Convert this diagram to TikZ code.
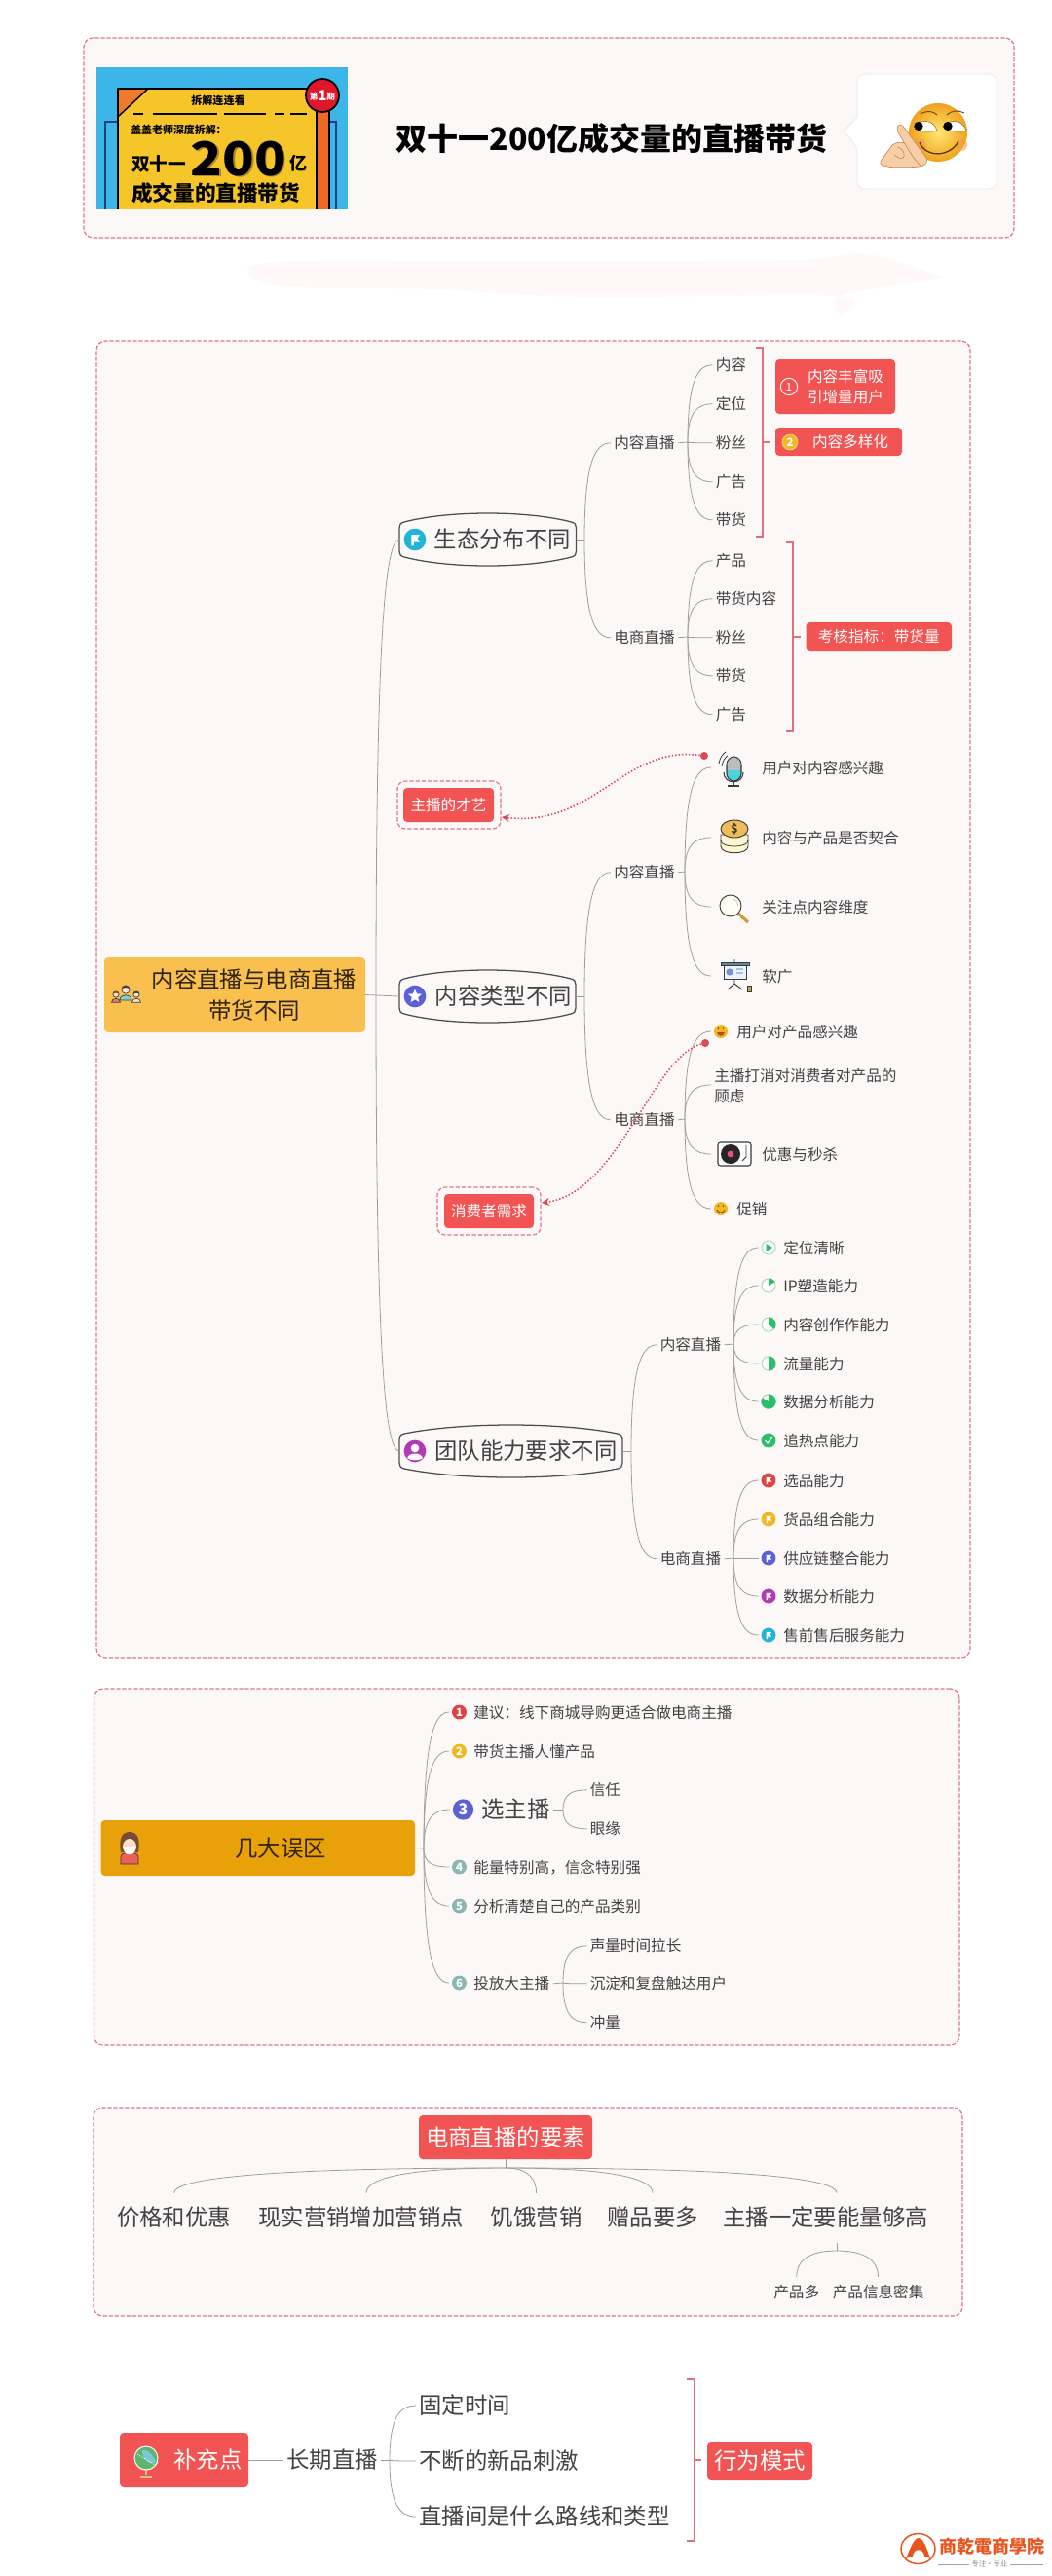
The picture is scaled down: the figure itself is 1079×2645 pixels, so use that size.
\documentclass[tikz,border=0pt]{standalone}
\usepackage{fontspec}
\usepackage{graphicx}
\setmainfont{Noto Sans CJK SC}
\newfontfamily\tcfont{Noto Sans CJK TC}
\usetikzlibrary{calc,arrows.meta,shapes.geometric}
\definecolor{txt}{HTML}{424242}
\definecolor{framefill}{HTML}{FDF8F8}
\definecolor{framedash}{HTML}{D9798A}
\definecolor{redbox}{HTML}{F25454}
\definecolor{connc}{HTML}{9E9E9E}
\definecolor{brkc}{HTML}{E0707F}
\definecolor{dotc}{HTML}{DC4A58}
\definecolor{greenc}{HTML}{2BBF68}
\definecolor{paleg}{HTML}{A9DDBD}
\definecolor{blueic}{HTML}{5B62D8}
\definecolor{purpic}{HTML}{B23BB5}
\definecolor{cyanic}{HTML}{1FB5D6}
\definecolor{yellic}{HTML}{F2B824}
\definecolor{redic}{HTML}{DD4444}
\definecolor{tealic}{HTML}{8AB6B6}
\definecolor{skinc}{HTML}{FBE2C8}
\definecolor{linec}{HTML}{3A3A3A}
\definecolor{peach}{HTML}{F6CFA8}
\newcommand\dc[1]{\definecolor{c#1}{HTML}{#1}}
\dc{FEF9F8}\dc{3CB5E8}\dc{1F3F7A}\dc{F5C52A}\dc{EF7A2A}\dc{EC6A22}\dc{E0162B}\dc{B08A20}\dc{EAEAEA}\dc{FFE870}\dc{EFA21E}\dc{F79A4A}\dc{6B4A10}\dc{8A6A20}\dc{5A3A08}\dc{C98A55}\dc{F9BF4F}\dc{2E2310}\dc{7FD3D6}\dc{E8766B}\dc{8A4A3A}\dc{FBE2C8}\dc{F7D98A}\dc{4CD2E2}\dc{BDBDBD}\dc{FFF6D2}\dc{F0BC5A}\dc{C8A040}\dc{FFFDF2}\dc{EAF3FB}\dc{5E8C94}\dc{7B8FD8}\dc{A9C3D6}\dc{C8402A}\dc{FBFBFB}\dc{262626}\dc{E2527A}\dc{E8A109}\dc{33240A}\dc{E8605A}\dc{7A4A34}\dc{D8C08A}\dc{5FB56C}\dc{F3F3F3}\dc{7CC6D6}\dc{E8541C}\dc{8A8A8A}\dc{A0A0A0}
\newcommand\fS{\fontsize{11.7}{15.75}\selectfont}
\newcommand\fL{\fontsize{17.55}{24}\selectfont}
\tikzset{
  conn/.style={draw=connc,line width=0.6pt},
  brk/.style={draw=brkc,line width=0.9pt},
  capsule/.style={draw=linec!90,line width=0.95pt},
  lab/.style={anchor=west,inner ysep=0pt,inner xsep=2.25pt,font=\fS,text=txt,yshift=-0.6pt},
  labL/.style={anchor=west,inner ysep=0pt,inner xsep=2.25pt,font=\fL,text=txt},
  framebox/.style={draw=framedash,fill=framefill,line width=0.9pt,dash pattern=on 3.2pt off 1.3pt,rounded corners=7pt},
  redn/.style={fill=redbox,rounded corners=3pt,text=white},
  dashouter/.style={draw=framedash,line width=0.9pt,dash pattern=on 3.2pt off 1.5pt,rounded corners=6pt},
  dotlink/.style={draw=dotc,line width=1.2pt,dash pattern=on 1.1pt off 1.5pt,-{Stealth[length=6pt,width=6pt,fill=dotc]}},
  reddot/.style={circle,fill=dotc,inner sep=0pt,minimum size=6pt},
  ico/.style={circle,fill=#1,inner sep=0pt,minimum size=11.2pt,outer sep=2.25pt},
  numic/.style={circle,fill=#1,inner sep=0pt,minimum size=11.2pt,outer sep=2.25pt,text=white,font=\fontsize{8.5}{8.5}\selectfont\bfseries},
  holder/.style={inner sep=0pt,outer sep=0pt,minimum height=20pt},
}
% rounded box from corner numbers
\newcommand\rbox[7]{%
  \pgfmathsetmacro\mycx{(#2+#4)/2}\pgfmathsetmacro\mycy{(#3+#5)/2}%
  \pgfmathsetmacro\myw{(#4-#2)*0.75}\pgfmathsetmacro\myh{(#5-#3)*0.75}%
  \node[rectangle,minimum width=\myw pt,minimum height=\myh pt,inner sep=0pt,outer sep=0pt,#6] (#1) at (\mycx,\mycy) {#7};}
% branch: junction -> child, leaves vertically, arrives horizontally
\newcommand\brR[2]{\draw[conn] (#1) .. controls ($(#1)!0.8!(#1|-#2)$) and ($(#2)!0.6!(#1|-#2)$) .. (#2);}
% branch: junction -> child, leaves horizontally, arrives vertically
\newcommand\brD[2]{\draw[conn] (#1) .. controls ($(#1)!0.75!(#2|-#1)$) and ($(#2)!0.55!(#2|-#1)$) .. (#2);}
% capsule outline
\newcommand\capnode[4]{%
  \pgfmathsetmacro\myw{(#3-#2)*0.75}\pgfmathsetmacro\mycx{(#2+#3)/2}\pgfmathsetmacro\myq{(#3-#2)*0.28}%
  \node[minimum width=\myw pt,minimum height=40pt,inner sep=0pt,outer sep=0pt] (#1) at (\mycx,#4) {};
  \draw[capsule] ({#2+5},{#4-18}) .. controls ({#2+\myq},{#4-30}) and ({#3-\myq},{#4-30}) .. ({#3-5},{#4-18})
    .. controls ({#3-1},{#4-17}) and (#3,{#4-15}) .. (#3,{#4-12}) -- (#3,{#4+12})
    .. controls (#3,{#4+15}) and ({#3-1},{#4+17}) .. ({#3-5},{#4+18})
    .. controls ({#3-\myq},{#4+30}) and ({#2+\myq},{#4+30}) .. ({#2+5},{#4+18})
    .. controls ({#2+1},{#4+17}) and (#2,{#4+15}) .. (#2,{#4+12}) -- (#2,{#4-12})
    .. controls (#2,{#4-15}) and ({#2+1},{#4-17}) .. ({#2+5},{#4-18}) -- cycle;}
% white flag glyph
\newcommand\flagm[3]{\fill[white,shift={(#1,#2)},scale=#3] (-3,-4) -- (4,-4) -- (2,-1) -- (4,2) -- (-1,2) -- (-1,5) -- (-3,5) -- cycle;}
% filled pie, clockwise from the top
\newcommand\pief[3]{\fill[greenc] (#1,#2) -- plot[variable=\t,domain=0:#3,samples=24] ({#1+7.5*sin(\t)},{#2-7.5*cos(\t)}) -- cycle;}
\newcommand\ringic[2]{\draw[paleg,line width=0.8pt,fill=white] (#1,#2) circle[radius=7];}
\newcommand\person[5]{%
  \begin{scope}[shift={(#1,#2)},scale=#3]
    \filldraw[fill=#4,draw=linec,line width=0.5pt] (-6,11) .. controls (-6,4) and (6,4) .. (6,11) -- cycle;
    \filldraw[fill=skinc,draw=linec,line width=0.5pt] (0,0) circle[radius=4.2];
    \fill[#5] (-4.2,-0.5) .. controls (-4,-5) and (4,-5) .. (4.2,-0.5) .. controls (2,-2.5) and (-2,-2.5) .. (-4.2,-0.5) -- cycle;
  \end{scope}}
\begin{document}
\begin{tikzpicture}[x=0.75pt,y=-0.75pt]
\useasboundingbox (0,0) rectangle (1079,2645);
\fill[white] (0,0) rectangle (1079,2645);

%% ---------- header ----------
\rbox{f1}{86}{39}{1041}{244}{framebox}{}
\fill[cFEF9F8] plot[smooth cycle,tension=0.6] coordinates {(274,270) (500,268) (814,267) (884,260) (955,280) (958,287) (865,303) (862,323) (858,304) (603,305) (443,297) (284,293)};
% cover picture
\fill[c3CB5E8] (99,69) rectangle (357,215);
\draw[c1F3F7A,line width=1.4pt] (121,125) -- (108,125) -- (108,215);
\draw[c1F3F7A,line width=1.4pt] (338,125) -- (345,125) -- (345,215);
\fill[cF5C52A] (121,91) rectangle (325,215);
\fill[cEF7A2A] (122,92) -- (151,92) -- (122,119) -- cycle;
\draw[black,line width=1.1pt] (151,92) -- (122,119);
\draw[black,line width=1.8pt] (121,215) -- (121,91) -- (325,91);
\fill[cEC6A22] (325,112) rectangle (338,215);
\draw[black,line width=1.4pt] (325,215) -- (325,112) (338,112) -- (338,215);
\filldraw[fill=cE0162B,draw=black,line width=1.3pt] (331,98) circle[radius=17];
\node[font=\fontsize{6.5}{7}\selectfont\bfseries,text=white,inner sep=0pt] (cov1) at (331,98) {第\raisebox{-0.5pt}{\fontsize{11}{11}\selectfont 1}期};
\node[font=\fontsize{8.3}{10}\selectfont\bfseries,text=black,inner sep=0pt] (cov2) at (224,103) {拆解连连看};
\draw[black,line width=1.2pt] (137,117) -- (147,117) (157,117) -- (223,117) (230,117) -- (273,117) (282,117) -- (292,117) (298,117) -- (315,117);
\node[font=\fontsize{8.2}{10}\selectfont\bfseries,text=black,inner sep=0pt,anchor=west] (cov3) at (134,133) {盖盖老师深度拆解：};
\node[font=\fontsize{14}{14}\selectfont\bfseries,text=black,inner sep=0pt,anchor=west] (cov4) at (135,168) {双十一};
\node[font=\fontsize{36}{36}\selectfont\bfseries,text=cB08A20,inner sep=0pt] (cov5s) at (246.5,164.5) {\scalebox{1.12}[1]{200}};
\node[font=\fontsize{36}{36}\selectfont\bfseries,text=black,inner sep=0pt] (cov5) at (245,163) {\scalebox{1.12}[1]{200}};
\node[font=\fontsize{13.5}{14}\selectfont\bfseries,text=black,inner sep=0pt,anchor=west] (cov6) at (297,168) {亿};
\node[font=\fontsize{16.2}{17}\selectfont\bfseries,text=black,inner sep=0pt,anchor=west] (cov7) at (135,198) {成交量的直播带货};
% title
\node[font=\fontsize{24}{26}\selectfont\bfseries,text=black,inner sep=0pt] (title) at (628,142) {双十一200亿成交量的直播带货};
% speech bubble and emoji
\filldraw[fill=white,draw=cEAEAEA,line width=0.6pt,rounded corners=6pt] (880,120) -- (880,76) -- (1023,76) -- (1023,194) -- (880,194) -- (880,150) [sharp corners] -- (866,135) -- cycle;
\shade[inner color=cFFE870,outer color=cEFA21E] (963,136) circle[radius=30];
\fill[cF79A4A,opacity=0.55] (944,149) circle[radius=7];
\fill[cF79A4A,opacity=0.55] (987,149) circle[radius=6];
\draw[c6B4A10,line width=0.7pt] (945,117) .. controls (952,113) and (958,114) .. (962,118);
\draw[c6B4A10,line width=0.7pt] (972,118) .. controls (977,113) and (984,113) .. (990,116);
\filldraw[fill=white,draw=c8A6A20,line width=0.4pt] (938,130) .. controls (945,122) and (958,122) .. (962,134) .. controls (955,136) and (945,136) .. (938,130) -- cycle;
\filldraw[fill=white,draw=c8A6A20,line width=0.4pt] (968,130) .. controls (975,122) and (988,122) .. (992,134) .. controls (985,136) and (975,136) .. (968,130) -- cycle;
\fill[black] (943,129.5) circle[radius=4.6];
\fill[black] (973,129.5) circle[radius=4.6];
\draw[c5A3A08,line width=1pt] (944,146) .. controls (950,162) and (975,162) .. (984,145);
% hand: fist, then the raised finger
\filldraw[fill=peach,draw=cC98A55,line width=0.5pt] (932,148) .. controls (925,145) and (920,146) .. (916,149) .. controls (912,155) and (908,160) .. (905,164) .. controls (903,167) and (904,169) .. (906,170) -- (914,171.5) .. controls (925,172) and (936,172) .. (946,170.7) -- cycle;
\filldraw[fill=peach,draw=cC98A55,line width=0.5pt] (921.7,129.3) .. controls (924,127) and (926,128) .. (929,132) -- (951,162) .. controls (953,166) and (950,169) .. (946,170.7) .. controls (942,168) and (938,162) .. (934,156) -- (922,136) .. controls (921,133) and (921,131) .. (921.7,129.3) -- cycle;
\draw[cC98A55,line width=0.5pt] (921,151) .. controls (926,152) and (929,156) .. (928,161) .. controls (925,165) and (921,161) .. (918,159);

%% ---------- frame 2 ----------
\rbox{f2}{99}{350}{996}{1702}{framebox}{}
% main orange node
\rbox{root}{107}{983}{375}{1060}{fill=cF9BF4F,rounded corners=3pt}{}
\node[font=\fL,text=c2E2310,align=center,inner sep=0pt] (roott) at (261,1022) {内容直播与电商直播\\带货不同};
\person{129}{1016}{1}{c7FD3D6}{linec}
\person{119}{1021}{0.75}{cE8766B}{c8A4A3A}
\person{140}{1021}{0.75}{cFBE2C8}{linec}
\capnode{b1}{410}{591.5}{554}
\capnode{b2}{410}{591}{1023}
\capnode{b3}{410}{639}{1490}
\node[ico=cyanic,minimum size=17pt] (b1i) at (426,554) {};
\flagm{426}{554}{1.25}
\node[ico=blueic,minimum size=17pt] (b2i) at (426,1023) {};
\node[star,star points=5,star point ratio=2.2,fill=white,inner sep=0pt,minimum size=11pt] (b2s) at (426,1023) {};
\node[ico=purpic,minimum size=17pt] (b3i) at (426,1490) {};
\fill[white] (426,1487) circle[radius=4.3];
\fill[white] (418,1497) .. controls (420,1491) and (432,1491) .. (434,1497) .. controls (431,1500) and (421,1500) .. (418,1497) -- cycle;
\node[labL] (b1t) at (442.5,554) {生态分布不同};
\node[labL] (b2t) at (443.5,1023) {内容类型不同};
\node[labL] (b3t) at (443,1490) {团队能力要求不同};
% root connectors
\coordinate (j0) at (386,1023);
\draw[conn] (root.east) -- (b2.west);
\brR{j0}{b1.west}
\brR{j0}{b3.west}

% --- branch 1
\coordinate (j1) at (600,554);
\draw[conn] (b1.east) -- (j1);
\node[lab] (a1) at (627,454) {内容直播};
\node[lab] (a2) at (627,654) {电商直播};
\brR{j1}{a1.west}
\brR{j1}{a2.west}
\coordinate (j1a) at (706,454);
\draw[conn] (a1.east) -- (j1a);
\node[lab] (a11) at (731.5,374) {内容};
\node[lab] (a12) at (731.5,414) {定位};
\node[lab] (a13) at (731.5,454) {粉丝};
\node[lab] (a14) at (731.5,494) {广告};
\node[lab] (a15) at (731.5,533) {带货};
\foreach \c in {a11,a12,a13,a14,a15}{\brR{j1a}{\c.west}}
\coordinate (j1b) at (706,654);
\draw[conn] (a2.east) -- (j1b);
\node[lab] (a21) at (731.5,575) {产品};
\node[lab] (a22) at (731.5,614) {带货内容};
\node[lab] (a23) at (731.5,654) {粉丝};
\node[lab] (a24) at (731.5,693) {带货};
\node[lab] (a25) at (731.5,733) {广告};
\foreach \c in {a21,a22,a23,a24,a25}{\brR{j1b}{\c.west}}
% brackets and summaries
\draw[brk] (776,357) -- (783,357) -- (783,551) -- (776,551);
\draw[brk] (783,454) -- (790,454);
\draw[brk] (807,557) -- (814,557) -- (814,751) -- (807,751);
\draw[brk] (814,654) -- (822,654);
\rbox{s1}{796}{369}{919}{425}{redn}{}
\node[circle,draw=white,line width=0.7pt,text=white,inner sep=0pt,minimum size=13pt,font=\fontsize{8.5}{8.5}\selectfont] (s1i) at (810,397) {1};
\node[font=\fS,text=white,align=center,inner sep=0pt] (s1t) at (868,397) {内容丰富吸\\引增量用户};
\rbox{s2}{796}{439}{926}{468}{redn}{}
\node[circle,fill=yellic,draw=cF7D98A,line width=0.5pt,text=white,inner sep=0pt,minimum size=12pt,font=\fontsize{8.5}{8.5}\selectfont\bfseries] (s2i) at (811,454) {2};
\node[font=\fS,text=white,inner sep=0pt] (s2t) at (873,454) {内容多样化};
\rbox{s3}{827.5}{639}{977}{668}{redn,font=\fS}{考核指标：带货量}

% --- branch 2
\coordinate (j2) at (600,1023);
\draw[conn] (b2.east) -- (j2);
\node[lab] (c1) at (627,895) {内容直播};
\node[lab] (c2) at (627,1149) {电商直播};
\brR{j2}{c1.west}
\brR{j2}{c2.west}
\coordinate (j2a) at (703,895);
\draw[conn] (c1.east) -- (j2a);
\node[holder,minimum width=33pt] (c11i) at (752,788) {};
\node[holder,minimum width=33pt] (c12i) at (752,860) {};
\node[holder,minimum width=33pt] (c13i) at (752,931) {};
\node[holder,minimum width=33pt] (c14i) at (752,1002) {};
\foreach \c in {c11i,c12i,c13i,c14i}{\brR{j2a}{\c.west}}
\node[lab] (c11) at (779,788) {用户对内容感兴趣};
\node[lab] (c12) at (779,860) {内容与产品是否契合};
\node[lab] (c13) at (779,931) {关注点内容维度};
\node[lab] (c14) at (779,1002) {软广};
% microphone
\draw[linec,line width=0.6pt] (741,787) .. controls (742,781) and (744,778) .. (747,776) (738,784) .. controls (739,778) and (742,774) .. (745,772);
\draw[linec,line width=0.8pt] (743,793) .. controls (743,806) and (763,806) .. (763,793);
\draw[linec,line width=0.8pt] (753,802) -- (753,807) (747,807) -- (759,807);
\filldraw[fill=c4CD2E2,draw=linec,line width=0.8pt,rounded corners=6pt] (746,777) rectangle (761,802);
\fill[cBDBDBD,rounded corners=6pt] (746.6,777.6) rectangle (760.4,791);
\fill[cBDBDBD] (746.6,784) rectangle (760.4,791);
% coins
\filldraw[fill=cFFF6D2,draw=linec,line width=0.7pt] (740,857) -- (740,869) .. controls (740,878) and (768,878) .. (768,869) -- (768,857) -- cycle;
\draw[linec,line width=0.6pt] (740,863) .. controls (740,871) and (768,871) .. (768,863);
\filldraw[fill=cF0BC5A,draw=linec,line width=0.7pt] (754,851) ellipse[x radius=14,y radius=9];
\node[font=\fontsize{9}{9}\selectfont\bfseries,text=linec,inner sep=0pt] (c12d) at (754,851) {\$};
% magnifier
\draw[cC8A040,line width=2.4pt] (758,938) -- (768,947);
\filldraw[fill=cFFFDF2,draw=linec,line width=0.7pt] (750,930) circle[radius=11];
\draw[cBDBDBD,line width=0.5pt] (753,923) .. controls (756,924) and (758,927) .. (758,930);
% projector screen
\draw[linec,line width=0.7pt] (754,985) -- (754,988) (754,1005) -- (754,1010) (754,1010) -- (747,1016) (754,1010) -- (762,1016);
\filldraw[fill=cEAF3FB,draw=linec,line width=0.6pt] (743,989) rectangle (766,1005);
\filldraw[fill=c5E8C94,draw=linec,line width=0.5pt] (740,988) rectangle (769,991);
\fill[c7B8FD8] (749,998) circle[radius=3.6];
\draw[cA9C3D6,line width=0.8pt] (756,995) -- (763,995) (756,999) -- (763,999);
\filldraw[fill=cC8A040,draw=linec,line width=0.4pt] (767,1012) rectangle (771,1018);

\coordinate (j2b) at (703,1149);
\draw[conn] (c2.east) -- (j2b);
\node[ico=yellic,minimum size=10.5pt] (c21i) at (740,1059) {};
\node[holder,minimum width=0pt] (c22h) at (730,1114) {};
\node[holder,minimum width=33pt] (c23i) at (752,1185) {};
\node[ico=yellic,minimum size=10.5pt] (c24i) at (740,1241) {};
\foreach \c in {c21i.west,c22h,c23i.west,c24i.west}{\brR{j2b}{\c}}
\node[lab] (c21) at (753,1059) {用户对产品感兴趣};
\node[lab,align=left] (c22) at (730,1114) {主播打消对消费者对产品的\\顾虑};
\node[lab] (c23) at (779,1185) {优惠与秒杀};
\node[lab] (c24) at (753,1241) {促销};
% face glyphs
\fill[c6B4A10] (737.5,1056) circle[radius=0.9] (742.5,1056) circle[radius=0.9];
\fill[cC8402A] (736,1060) .. controls (737,1065) and (743,1065) .. (744,1060) -- cycle;
\fill[c6B4A10] (737.5,1238) circle[radius=0.9] (742.5,1238) circle[radius=0.9];
\draw[c6B4A10,line width=0.6pt] (736,1242) .. controls (737,1246) and (743,1246) .. (744,1242);
% turntable
\filldraw[fill=cFBFBFB,draw=linec,line width=0.8pt,rounded corners=2pt] (737,1173) rectangle (771,1197);
\fill[c262626] (750,1185) circle[radius=10];
\fill[cE2527A] (750,1185) circle[radius=3.4];
\draw[linec,line width=0.6pt] (766,1176) -- (766,1188) -- (762,1192);
% callouts
\rbox{t1o}{408}{802}{514}{851}{dashouter}{}
\rbox{t1}{414}{809}{507}{844}{redn,font=\fS}{主播的才艺}
\node[reddot] (d1) at (723,776) {};
\draw[dotlink] (d1) .. controls (640,765) and (610,850) .. ($(t1o.east)+(1,12.5)$);
\rbox{t2o}{449}{1219}{555}{1268}{dashouter}{}
\rbox{t2}{456}{1226}{548}{1261}{redn,font=\fS}{消费者需求}
\node[reddot] (d2) at (724,1071) {};
\draw[dotlink] (d2) .. controls (670,1085) and (635,1225) .. ($(t2o.east)+(1,-8.5)$);

% --- branch 3
\coordinate (j3) at (648,1490);
\draw[conn] (b3.east) -- (j3);
\node[lab] (e1) at (674.5,1380) {内容直播};
\node[lab] (e2) at (674.5,1600) {电商直播};
\brR{j3}{e1.west}
\brR{j3}{e2.west}
\coordinate (j3a) at (753,1380);
\draw[conn] (e1.east) -- (j3a);
\node[ico=white] (e11i) at (789,1281) {};
\node[ico=white] (e12i) at (789,1320) {};
\node[ico=white] (e13i) at (789,1360) {};
\node[ico=white] (e14i) at (789,1400) {};
\node[ico=greenc] (e15i) at (789,1439) {};
\node[ico=greenc] (e16i) at (789,1479) {};
\foreach \c in {e11i,e12i,e13i,e14i,e15i,e16i}{\brR{j3a}{\c.west}}
\ringic{789}{1281}\ringic{789}{1320}\ringic{789}{1360}\ringic{789}{1400}\ringic{789}{1439}
\fill[greenc] (786.5,1277) -- (793,1281) -- (786.5,1285) -- cycle;
\pief{789}{1320}{60}
\pief{789}{1360}{130}
\pief{789}{1400}{180}
\pief{789}{1439}{300}
\draw[white,line width=0.9pt] (785.5,1479) -- (788,1482) -- (792.5,1476);
\node[lab] (e11) at (801,1281) {定位清晰};
\node[lab] (e12) at (801,1320) {IP塑造能力};
\node[lab] (e13) at (801,1360) {内容创作作能力};
\node[lab] (e14) at (801,1400) {流量能力};
\node[lab] (e15) at (801,1439) {数据分析能力};
\node[lab] (e16) at (801,1479) {追热点能力};
\coordinate (j3b) at (753,1600);
\draw[conn] (e2.east) -- (j3b);
\node[ico=redic] (e21i) at (789,1520) {};
\node[ico=yellic] (e22i) at (789,1560) {};
\node[ico=blueic] (e23i) at (789,1600) {};
\node[ico=purpic] (e24i) at (789,1639) {};
\node[ico=cyanic] (e25i) at (789,1679) {};
\foreach \c in {e21i,e22i,e23i,e24i,e25i}{\brR{j3b}{\c.west}}
\flagm{789}{1520}{0.8}\flagm{789}{1560}{0.8}\flagm{789}{1600}{0.8}\flagm{789}{1639}{0.8}\flagm{789}{1679}{0.8}
\node[lab] (e21) at (801,1520) {选品能力};
\node[lab] (e22) at (801,1560) {货品组合能力};
\node[lab] (e23) at (801,1600) {供应链整合能力};
\node[lab] (e24) at (801,1639) {数据分析能力};
\node[lab] (e25) at (801,1679) {售前售后服务能力};

%% ---------- frame 3 ----------
\rbox{f3}{96.4}{1734}{985}{2100}{framebox}{}
\rbox{m0}{103.5}{1869}{426}{1926}{fill=cE8A109,rounded corners=3pt}{}
\node[font=\fL,text=c33240A,inner sep=0pt] (m0t) at (288,1898) {几大误区};
% woman figure
\filldraw[fill=cE8605A,draw=linec,line width=0.5pt] (124,1914) -- (124,1906) .. controls (125,1901) and (141,1901) .. (142,1906) -- (142,1914) -- cycle;
\fill[c7A4A34] (133,1881) .. controls (124,1881) and (122,1890) .. (124,1902) -- (142,1902) .. controls (144,1890) and (142,1881) .. (133,1881) -- cycle;
\fill[skinc] (133,1896) ellipse[x radius=7,y radius=8];
\fill[white] (127,1896) -- (139,1896) -- (138,1902) .. controls (135,1905) and (131,1905) .. (128,1902) -- cycle;
\coordinate (jm) at (435,1898);
\draw[conn] (m0.east) -- (jm);
\node[numic=redic] (m1i) at (471.5,1758) {1};
\node[numic=yellic] (m2i) at (471.5,1798) {2};
\node[numic=blueic,minimum size=16pt,font=\fontsize{12}{12}\selectfont\bfseries] (m3i) at (475.5,1858) {3};
\node[numic=tealic] (m4i) at (471.5,1917) {4};
\node[numic=tealic] (m5i) at (471.5,1957) {5};
\node[numic=tealic] (m6i) at (471.5,2036) {6};
\foreach \c in {m1i,m2i,m3i,m4i,m5i,m6i}{\brR{jm}{\c.west}}
\node[lab] (m1) at (483,1758) {建议：线下商城导购更适合做电商主播};
\node[lab] (m2) at (483,1798) {带货主播人懂产品};
\node[labL] (m3) at (491,1858) {选主播};
\node[lab] (m4) at (483,1917) {能量特别高，信念特别强};
\node[lab] (m5) at (483,1957) {分析清楚自己的产品类别};
\node[lab] (m6) at (483,2036) {投放大主播};
\coordinate (jm3) at (578,1858);
\draw[conn] (m3.east) -- (jm3);
\node[lab] (m31) at (602.5,1837) {信任};
\node[lab] (m32) at (602.5,1877) {眼缘};
\brR{jm3}{m31.west}
\brR{jm3}{m32.west}
\coordinate (jm6) at (578,2036);
\draw[conn] (m6.east) -- (jm6);
\node[lab] (m61) at (602.5,1997) {声量时间拉长};
\node[lab] (m62) at (602.5,2036) {沉淀和复盘触达用户};
\node[lab] (m63) at (602.5,2076) {冲量};
\brR{jm6}{m61.west}
\brR{jm6}{m62.west}
\brR{jm6}{m63.west}

%% ---------- frame 4 ----------
\rbox{f4}{96}{2164}{988}{2378}{framebox}{}
\rbox{v0}{430}{2172}{608}{2217}{redn,font=\fL}{电商直播的要素}
\coordinate (jv) at (519,2226);
\draw[conn] (v0.south) -- (jv);
\node[font=\fL,text=txt,inner sep=0pt,minimum height=37.5pt] (v1) at (178.6,2277) {价格和优惠};
\node[font=\fL,text=txt,inner sep=0pt,minimum height=37.5pt] (v2) at (370.5,2277) {现实营销增加营销点};
\node[font=\fL,text=txt,inner sep=0pt,minimum height=37.5pt] (v3) at (550.6,2277) {饥饿营销};
\node[font=\fL,text=txt,inner sep=0pt,minimum height=37.5pt] (v4) at (670,2277) {赠品要多};
\node[font=\fL,text=txt,inner sep=0pt,minimum height=37.5pt] (v5) at (847.6,2277) {主播一定要能量够高};
\coordinate (v2t) at ($(v2.north)+(5.5,0)$);
\coordinate (v5t) at ($(v5.north)+(11.4,0)$);
\brD{jv}{v1.north}
\brD{jv}{v2t}
\brD{jv}{v3.north}
\brD{jv}{v4.north}
\brD{jv}{v5t}
\coordinate (v5b) at (859,2303);
\coordinate (jv5) at (859,2311);
\draw[conn] (v5b) -- (jv5);
\node[font=\fS,text=txt,inner sep=0pt,minimum height=24pt] (v51) at (817.7,2354) {产品多};
\node[font=\fS,text=txt,inner sep=0pt,minimum height=24pt] (v52) at (901.6,2354) {产品信息密集};
\brD{jv5}{v51.north}
\brD{jv5}{v52.north}

%% ---------- bottom ----------
\rbox{w0}{123}{2498}{255}{2554}{redn}{}
\node[font=\fL,text=white,inner sep=0pt,anchor=west] (w0t) at (178,2526) {补充点};
\draw[cD8C08A,line width=1pt] (140,2530) .. controls (143,2538) and (157,2538) .. (162,2528);
\draw[cD8C08A,line width=1.3pt] (150,2536) -- (150,2541) (144,2543) -- (156,2543);
\filldraw[fill=c5FB56C,draw=cF3F3F3,line width=0.8pt] (150,2524) circle[radius=12];
\fill[c7CC6D6] (146,2516) .. controls (152,2514) and (158,2522) .. (160,2528) .. controls (154,2532) and (146,2526) .. (146,2516) -- cycle;
\draw[white,line width=0.5pt,dash pattern=on 1pt off 1pt] (141,2520) -- (159,2531);
\node[labL] (w1) at (291,2526) {长期直播};
\draw[conn] (w0.east) -- (w1.west);
\coordinate (jw) at (400,2526);
\draw[conn] (w1.east) -- (jw);
\node[labL] (w11) at (427,2470) {固定时间};
\node[labL] (w12) at (427,2527) {不断的新品刺激};
\node[labL] (w13) at (427,2584) {直播间是什么路线和类型};
\brR{jw}{w11.west}
\brR{jw}{w12.west}
\brR{jw}{w13.west}
\draw[brk] (705,2443) -- (712.5,2443) -- (712.5,2609) -- (705,2609);
\draw[brk] (712.5,2526) -- (720,2526);
\rbox{w2}{726}{2507}{834}{2546}{redn,font=\fL}{行为模式}

%% logo
\draw[cE8541C,line width=1.1pt] (942.5,2617) ellipse[x radius=17.5,y radius=15.5];
\fill[cE8541C] (930,2627) .. controls (934,2618) and (938,2606) .. (943,2606) .. controls (948,2606) and (952,2618) .. (955,2627) .. controls (950,2624) and (935,2624) .. (930,2627) -- cycle;
\fill[white] (937,2625) .. controls (938,2616) and (948,2616) .. (949,2625) -- cycle;
\node[font=\tcfont\fontsize{13.5}{14}\selectfont\bfseries,text=cE8541C,inner sep=0pt] (logo) at (1018,2615) {商乾電商學院};
\node[font=\fontsize{5.5}{6}\selectfont,text=c8A8A8A,inner sep=0pt] (logo2) at (1016,2633) {专注·专业};
\draw[cA0A0A0,line width=0.5pt] (963,2633) -- (995,2633) (1037,2633) -- (1071,2633);
\end{tikzpicture}
\end{document}
